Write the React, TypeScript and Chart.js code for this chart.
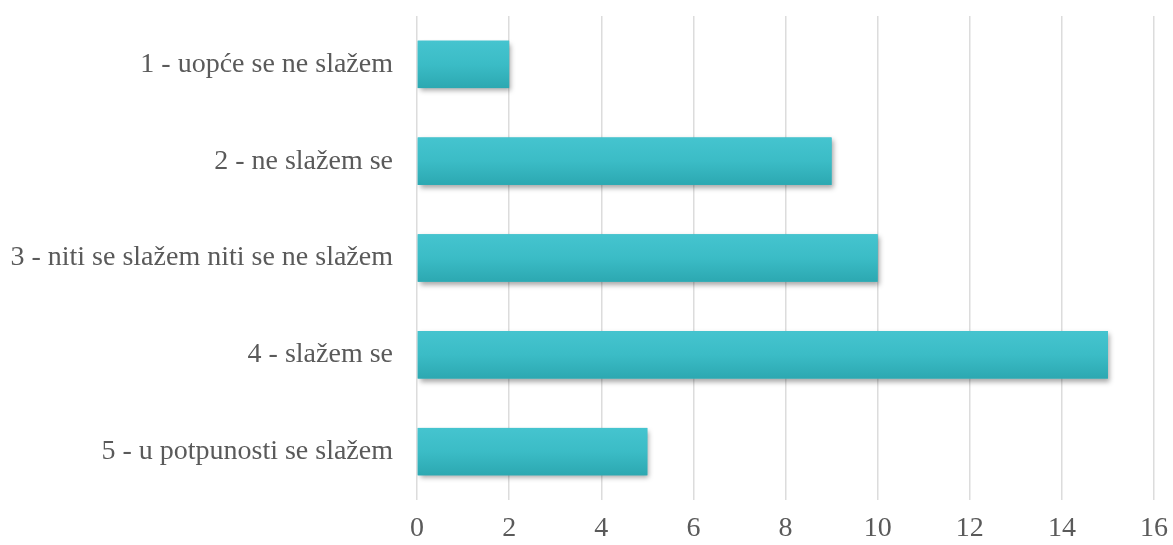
import React, { useEffect, useRef } from "react";
import { Chart, registerables } from "chart.js";

Chart.register(...registerables);

const categories = [
  "1 - uopće se ne slažem",
  "2 - ne slažem se",
  "3 - niti se slažem niti se ne slažem",
  "4 - slažem se",
  "5 - u potpunosti se slažem",
];
const values = [2, 9, 10, 15, 5];
const xMin = 0;
const xMax = 16;
const xStep = 2;

const barStyle = {
  id: "barStyle",
  beforeDatasetsDraw(chart: any) {
    const ctx = chart.ctx;
    ctx.save();
    ctx.shadowColor = "rgba(0,0,0,0.35)";
    ctx.shadowBlur = 5;
    ctx.shadowOffsetX = 2;
    ctx.shadowOffsetY = 3;
  },
  afterDatasetsDraw(chart: any) {
    const ctx = chart.ctx;
    ctx.restore();
    const meta = chart.getDatasetMeta(0);
    meta.data.forEach((bar: any) => {
      const top = bar.y - bar.height / 2;
      const left = Math.min(bar.base, bar.x);
      const w = Math.abs(bar.x - bar.base);
      const g = ctx.createLinearGradient(0, top, 0, top + bar.height);
      g.addColorStop(0, "#45c4cf");
      g.addColorStop(0.5, "#3bbcc6");
      g.addColorStop(1, "#2ca8b1");
      ctx.save();
      ctx.fillStyle = g;
      ctx.fillRect(left, top, w, bar.height);
      ctx.restore();
    });
  },
};

export default function App() {
  const ref = useRef<HTMLCanvasElement>(null);
  useEffect(() => {
    if (!ref.current) return;
    const chart = new Chart(ref.current, {
      type: "bar",
      data: {
        labels: categories,
        datasets: [
          {
            data: values,
            backgroundColor: "#3bbcc6",
            borderWidth: 0,
            barPercentage: 0.49,
            categoryPercentage: 1,
          },
        ],
      },
      options: {
        indexAxis: "y",
        animation: false,
        responsive: false,
        maintainAspectRatio: false,
        layout: { padding: { top: 16, bottom: 0, right: 19, left: 0 } },
        plugins: { legend: { display: false }, tooltip: { enabled: false } },
        scales: {
          x: {
            min: xMin,
            max: xMax,
            afterFit: (s: any) => {
              s.height = 45;
              s.paddingLeft = 0;
              s.paddingRight = 0;
            },
            ticks: {
              stepSize: xStep,
              padding: 12,
              color: "#5a5a5a",
              font: { family: "Liberation Serif", size: 28 },
            },
            grid: { color: "#dcdcdc", lineWidth: 1.5, drawTicks: false },
            border: { display: false },
          },
          y: {
            afterFit: (s: any) => {
              s.width = 417;
              s.paddingTop = 0;
              s.paddingBottom = 0;
            },
            ticks: {
              padding: 16,
              color: "#5a5a5a",
              font: { family: "Liberation Serif", size: 28 },
            },
            grid: { display: false },
            border: { display: false },
          },
        },
      },
      plugins: [barStyle],
    });
    return () => chart.destroy();
  }, []);
  return (
    <div style={{ position: "fixed", left: 0, top: 0, width: 1173, height: 545, background: "#fff" }}>
      <canvas ref={ref} width={1173} height={545} />
    </div>
  );
}
